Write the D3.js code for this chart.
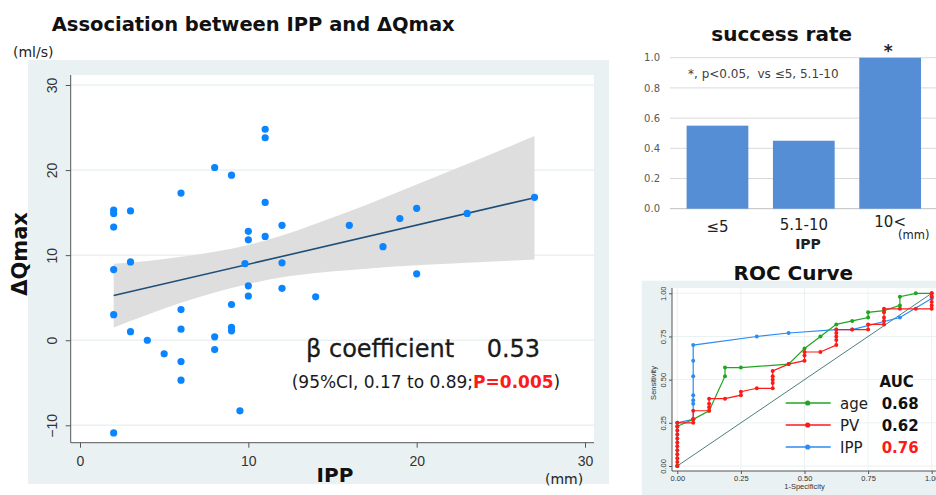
<!DOCTYPE html>
<html><head><meta charset="utf-8">
<script src="https://cdn.jsdelivr.net/npm/d3@7"></script>
<style>body{margin:0;background:#fff;} svg{display:block;}</style>
</head><body>
<svg id="c" width="936" height="495"></svg>
<script>
// ---------------- DATA ----------------
// Scatter: IPP (mm) vs ΔQmax (ml/s)
const ippX = [2,2,2,2,2,2,3,3,3,4,5,6,6,6,6,6,8,8,8,9,9,9,9,9.5,9.8,10,10,10,10,11,11,11,11,12,12,12,14,16,18,19,20,20,23,27];
const dqY  = [15.3,14.9,13.3,8.3,3.0,-10.9,15.2,9.2,1.0,0.0,-1.6,17.3,3.6,1.3,-2.5,-4.7,20.3,0.4,-1.1,19.4,4.2,1.5,1.1,-8.3,9.0,12.8,11.8,6.4,5.2,24.8,23.8,16.2,12.2,13.5,9.1,6.1,5.1,13.5,11.0,14.3,15.5,7.8,14.9,16.8];
const fitX = [2, 27];
const fitY = [5.25, 16.75];
const ciX    = [2, 4, 6, 8, 10, 12, 14, 17, 20, 23, 27];
const ciLow  = [1.5, 3.0, 4.4, 5.6, 6.6, 7.4, 7.9, 8.4, 8.8, 9.1, 9.5];
const ciHigh = [9.0, 9.3, 9.8, 10.4, 11.2, 12.3, 13.7, 15.9, 18.3, 20.7, 24.0];
const scatXTicks = [0, 10, 20, 30];
const scatYTicks = [-10, 0, 10, 20, 30];

// Bar chart: success rate
const barCats = ["≤5", "5.1-10", "10<"];
const barVals = [0.55, 0.45, 1.0];
const barTicks = [0, 0.2, 0.4, 0.6, 0.8, 1.0];

// ROC curves
const ageFpr = [0,0,0.0625,0.125,0.1875,0.1875,0.25,0.4375,0.5,0.5625,0.625,0.6875,0.75,0.75,0.8125,0.875,0.875,0.9375,1];
const ageTpr = [0,0.23,0.27,0.32,0.52,0.57,0.57,0.59,0.68,0.75,0.82,0.84,0.86,0.89,0.90,0.93,0.98,1,1];
const pvFpr = [0,0,0,0,0,0,0,0,0,0,0,0,0.0625,0.0625,0.0625,0.125,0.125,0.125,0.125,0.1875,0.25,0.25,0.3125,0.375,0.375,0.375,0.375,0.375,0.4375,0.5,0.5,0.5,0.5625,0.625,0.625,0.625,0.625,0.625,0.6875,0.75,0.75,0.8125,0.8125,0.8125,0.8125,0.8125,0.875,0.9375,1,1,1,1,1];
const pvTpr = [0,0.023,0.045,0.068,0.091,0.114,0.136,0.159,0.182,0.205,0.227,0.25,0.25,0.27,0.32,0.32,0.34,0.36,0.39,0.39,0.41,0.43,0.45,0.45,0.48,0.50,0.52,0.55,0.59,0.61,0.64,0.66,0.66,0.70,0.73,0.75,0.77,0.79,0.79,0.79,0.82,0.82,0.84,0.86,0.89,0.91,0.91,0.91,0.91,0.93,0.95,0.98,1];
const ippFpr = [0,0,0.0625,0.0625,0.0625,0.0625,0.0625,0.0625,0.0625,0.3125,0.4375,0.625,0.6875,0.875,1,1];
const ippTpr = [0,0.25,0.27,0.36,0.38,0.41,0.52,0.61,0.70,0.75,0.77,0.79,0.79,0.86,0.97,0.98];
const rocNames = ["age", "PV", "IPP"];
const rocAuc = ["0.68", "0.62", "0.76"];
const rocTicks = [0, 0.25, 0.5, 0.75, 1];

// ---------------- STYLE ----------------
const FM = "'DejaVu Sans', Verdana, sans-serif";
const FS = "'Liberation Sans', Arial, sans-serif";
const STATA_BG = "#eaf1f3";
const svg = d3.select("#c");

// ================= SCATTER =================
const sx = d3.scaleLinear().domain([0, 30]).range([80, 585]);
const sy = d3.scaleLinear().domain([-10, 30]).range([425.3, 85]);
const pL = 70.7, pR = 594, pT = 75, pB = 442.7;

svg.append("rect").attr("x", 28).attr("y", 60).attr("width", 581).attr("height", 424).attr("fill", STATA_BG);
svg.append("rect").attr("x", pL).attr("y", pT).attr("width", pR - pL).attr("height", pB - pT).attr("fill", "#fff");

svg.append("g").selectAll("line").data(scatYTicks).join("line")
  .attr("x1", pL).attr("x2", pR).attr("y1", d => sy(d)).attr("y2", d => sy(d))
  .attr("stroke", STATA_BG).attr("stroke-width", 1.5);

// CI band
const band = d3.area().x((d, i) => sx(ciX[i])).y0((d, i) => sy(ciLow[i])).y1((d, i) => sy(ciHigh[i])).curve(d3.curveMonotoneX);
svg.append("path").datum(ciX).attr("d", band).attr("fill", "#dedede");

// fit line
const fitLine = d3.line().x((d, i) => sx(fitX[i])).y((d, i) => sy(fitY[i]));
svg.append("path").datum(fitX).attr("d", fitLine).attr("fill", "none").attr("stroke", "#1f4e79").attr("stroke-width", 1.6);

// points
svg.append("g").selectAll("circle").data(ippX).join("circle")
  .attr("cx", d => sx(d)).attr("cy", (d, i) => sy(dqY[i])).attr("r", 3.6).attr("fill", "#0a84ff");

// axes
const yAx = svg.append("g").attr("transform", `translate(${pL},0)`)
  .call(d3.axisLeft(sy).tickValues(scatYTicks).tickSize(5).tickSizeOuter(0).tickFormat(d3.format("d")));
yAx.select(".domain").remove();
yAx.selectAll("line").attr("stroke", "#555");
yAx.selectAll("text").attr("transform", "rotate(-90)").attr("x", 0).attr("y", -13.4).attr("dy", 0)
  .attr("text-anchor", "middle").attr("font-family", FS).attr("font-size", 14).attr("fill", "#333");
svg.append("line").attr("x1", pL).attr("x2", pL).attr("y1", pT).attr("y2", pB).attr("stroke", "#555");

const xAx = svg.append("g").attr("transform", `translate(0,${pB})`)
  .call(d3.axisBottom(sx).tickValues(scatXTicks).tickSize(5).tickSizeOuter(0).tickFormat(d3.format("d")));
xAx.select(".domain").remove();
xAx.selectAll("line").attr("stroke", "#555");
xAx.selectAll("text").attr("y", 23.3).attr("dy", 0).attr("font-family", FS).attr("font-size", 14).attr("fill", "#333");
svg.append("line").attr("x1", pL).attr("x2", pR).attr("y1", pB).attr("y2", pB).attr("stroke", "#555");

// labels
svg.append("text").attr("x", 51.7).attr("y", 31).attr("font-family", FM).attr("font-weight", "bold")
  .attr("font-size", 19.5).attr("fill", "#111").text("Association between IPP and ΔQmax");
svg.append("text").attr("x", 13).attr("y", 57).attr("font-family", FM).attr("font-size", 14).attr("fill", "#222").text("(ml/s)");
svg.append("text").attr("transform", "translate(27,254) rotate(-90)").attr("text-anchor", "middle")
  .attr("font-family", FM).attr("font-weight", "bold").attr("font-size", 21).attr("fill", "#111").text("ΔQmax");
svg.append("text").attr("x", 335).attr("y", 481.5).attr("text-anchor", "middle").attr("font-family", FM)
  .attr("font-weight", "bold").attr("font-size", 20).attr("fill", "#111").text("IPP");
svg.append("text").attr("x", 545).attr("y", 484).attr("font-family", FM).attr("font-size", 14).attr("fill", "#222").text("(mm)");

svg.append("text").attr("x", 306).attr("y", 357).attr("font-family", FM).attr("font-size", 24).attr("fill", "#1a1a1a")
  .attr("stroke", "#1a1a1a").attr("stroke-width", 0.3).text("β coefficient");
svg.append("text").attr("x", 486.7).attr("y", 357).attr("font-family", FM).attr("font-size", 24).attr("fill", "#1a1a1a")
  .attr("stroke", "#1a1a1a").attr("stroke-width", 0.3).text("0.53");
const ci = svg.append("text").attr("x", 291.7).attr("y", 387.5).attr("font-family", FM).attr("font-size", 17).attr("fill", "#1a1a1a");
ci.append("tspan").text("(95%CI, 0.17 to 0.89;");
ci.append("tspan").attr("fill", "#ff1a1a").attr("font-weight", "bold").text("P=0.005");
ci.append("tspan").text(")");

// ================= BAR CHART =================
const bx = d3.scaleBand().domain(barCats).range([674.3, 933.3]).paddingInner(0.285).paddingOuter(0.1425);
const by = d3.scaleLinear().domain([0, 1]).range([208.7, 57.7]);

svg.append("g").selectAll("line").data(barTicks).join("line")
  .attr("x1", 670).attr("x2", 936).attr("y1", d => by(d)).attr("y2", d => by(d))
  .attr("stroke", d => d === 0 ? "#bfbfbf" : "#d9d9d9").attr("stroke-width", 1);

svg.append("g").selectAll("rect").data(barCats).join("rect")
  .attr("x", d => bx(d)).attr("width", bx.bandwidth())
  .attr("y", (d, i) => by(barVals[i])).attr("height", (d, i) => by(0) - by(barVals[i]))
  .attr("fill", "#558ed5");

const byAx = svg.append("g").attr("transform", "translate(670,0)")
  .call(d3.axisLeft(by).tickValues(barTicks).tickSize(0).tickPadding(10).tickFormat(d3.format(".1f")));
byAx.select(".domain").remove();
byAx.selectAll("text").attr("font-family", FM).attr("font-size", 10).attr("fill", "#595959");

const catBase = [232.5, 230, 227];
const bxAx = svg.append("g").attr("transform", "translate(0,208.7)")
  .call(d3.axisBottom(bx).tickSize(0));
bxAx.select(".domain").remove();
bxAx.selectAll("text").attr("y", (d, i) => catBase[i] - 208.7).attr("dy", 0)
  .attr("font-family", FM).attr("font-size", 15).attr("fill", "#222");

svg.append("text").attr("x", 781.7).attr("y", 41).attr("text-anchor", "middle").attr("font-family", FM)
  .attr("font-weight", "bold").attr("font-size", 20).attr("fill", "#111").text("success rate");
svg.append("text").attr("x", 688).attr("y", 77.5).attr("font-family", FM).attr("font-size", 12).attr("fill", "#404040")
  .attr("xml:space", "preserve").text("*, p<0.05,  vs ≤5, 5.1-10");
svg.append("text").attr("x", bx("10<") + bx.bandwidth() / 2 - 2).attr("y", 57).attr("text-anchor", "middle")
  .attr("font-family", FM).attr("font-weight", "bold").attr("font-size", 17).attr("fill", "#222").text("*");
svg.append("text").attr("x", 898).attr("y", 239).attr("font-family", FM).attr("font-size", 11.5).attr("fill", "#222").text("(mm)");
svg.append("text").attr("x", 808).attr("y", 249).attr("text-anchor", "middle").attr("font-family", FM)
  .attr("font-weight", "bold").attr("font-size", 14).attr("fill", "#222").text("IPP");

// ================= ROC =================
const rx = d3.scaleLinear().domain([0, 1]).range([677.3, 931.7]);
const ry = d3.scaleLinear().domain([0, 1]).range([466, 293.3]);
const rL = 672, rT = 288, rB = 471;

svg.append("rect").attr("x", 641.7).attr("y", 280.7).attr("width", 936 - 641.7).attr("height", 495 - 280.7).attr("fill", STATA_BG);
svg.append("rect").attr("x", rL).attr("y", rT).attr("width", 936 - rL).attr("height", rB - rT).attr("fill", "#fff");

svg.append("g").selectAll("line").data(rocTicks).join("line")
  .attr("x1", rL).attr("x2", 936).attr("y1", d => ry(d)).attr("y2", d => ry(d)).attr("stroke", STATA_BG).attr("stroke-width", 1);
svg.append("g").selectAll("line").data(rocTicks).join("line")
  .attr("y1", rT).attr("y2", rB).attr("x1", d => rx(d)).attr("x2", d => rx(d)).attr("stroke", STATA_BG).attr("stroke-width", 1);

svg.append("line").attr("x1", rx(0)).attr("y1", ry(0)).attr("x2", rx(1)).attr("y2", ry(1))
  .attr("stroke", "#4d7f7f").attr("stroke-width", 1);

const rocSets = [
  { f: ippFpr, t: ippTpr, c: "#2a8cf5" },
  { f: ageFpr, t: ageTpr, c: "#21a621" },
  { f: pvFpr, t: pvTpr, c: "#ff1a1a" }
];
const rocLine = d3.line();
rocSets.forEach(s => {
  const pts = s.f.map((v, i) => [rx(v), ry(s.t[i])]);
  svg.append("path").datum(pts).attr("d", rocLine).attr("fill", "none").attr("stroke", s.c).attr("stroke-width", 1.2);
  svg.append("g").selectAll("circle").data(pts).join("circle")
    .attr("cx", d => d[0]).attr("cy", d => d[1]).attr("r", 2).attr("fill", s.c);
});

const ryAx = svg.append("g").attr("transform", `translate(${rL},0)`)
  .call(d3.axisLeft(ry).tickValues(rocTicks).tickSize(3).tickSizeOuter(0).tickFormat(d3.format(".2f")));
ryAx.select(".domain").remove();
ryAx.selectAll("line").attr("stroke", "#555");
ryAx.selectAll("text").attr("transform", "rotate(-90)").attr("x", 0).attr("y", -6.5).attr("dy", 0)
  .attr("text-anchor", "middle").attr("font-family", FS).attr("font-size", 7.5).attr("fill", "#333");
svg.append("line").attr("x1", rL).attr("x2", rL).attr("y1", rT).attr("y2", rB).attr("stroke", "#555");

const rxAx = svg.append("g").attr("transform", `translate(0,${rB})`)
  .call(d3.axisBottom(rx).tickValues(rocTicks).tickSize(3).tickSizeOuter(0).tickFormat(d3.format(".2f")));
rxAx.select(".domain").remove();
rxAx.selectAll("line").attr("stroke", "#555");
rxAx.selectAll("text").attr("y", 9.5).attr("dy", 0).attr("font-family", FS).attr("font-size", 7.5).attr("fill", "#333");
svg.append("line").attr("x1", rL).attr("x2", 936).attr("y1", rB).attr("y2", rB).attr("stroke", "#555");

svg.append("text").attr("transform", "translate(655.5,383) rotate(-90)").attr("text-anchor", "middle")
  .attr("font-family", FS).attr("font-size", 7.5).attr("fill", "#333").text("Sensitivity");
svg.append("text").attr("x", rx(0.5)).attr("y", 489).attr("text-anchor", "middle")
  .attr("font-family", FS).attr("font-size", 7.5).attr("fill", "#333").text("1-Specificity");
svg.append("text").attr("x", 793.3).attr("y", 280).attr("text-anchor", "middle").attr("font-family", FM)
  .attr("font-weight", "bold").attr("font-size", 20).attr("fill", "#111").text("ROC Curve");

// legend
const legColors = ["#21a621", "#ff1a1a", "#2a8cf5"];
const legY = [403, 425, 447];
svg.append("text").attr("x", 896.7).attr("y", 387).attr("text-anchor", "middle").attr("font-family", FM)
  .attr("font-weight", "bold").attr("font-size", 15).attr("fill", "#111").text("AUC");
rocNames.forEach((n, i) => {
  svg.append("line").attr("x1", 785.7).attr("x2", 830.7).attr("y1", legY[i]).attr("y2", legY[i])
    .attr("stroke", legColors[i]).attr("stroke-width", 1.5);
  svg.append("circle").attr("cx", 807.7).attr("cy", legY[i]).attr("r", 2.6).attr("fill", legColors[i]);
  svg.append("text").attr("x", 840).attr("y", legY[i] + 5.5).attr("font-family", FM).attr("font-size", 15)
    .attr("fill", "#222").text(n);
  svg.append("text").attr("x", 881.7).attr("y", legY[i] + 5.5).attr("font-family", FM).attr("font-weight", "bold")
    .attr("font-size", 15).attr("fill", i === 2 ? "#ff1a1a" : "#111").text(rocAuc[i]);
});
</script>
</body></html>
